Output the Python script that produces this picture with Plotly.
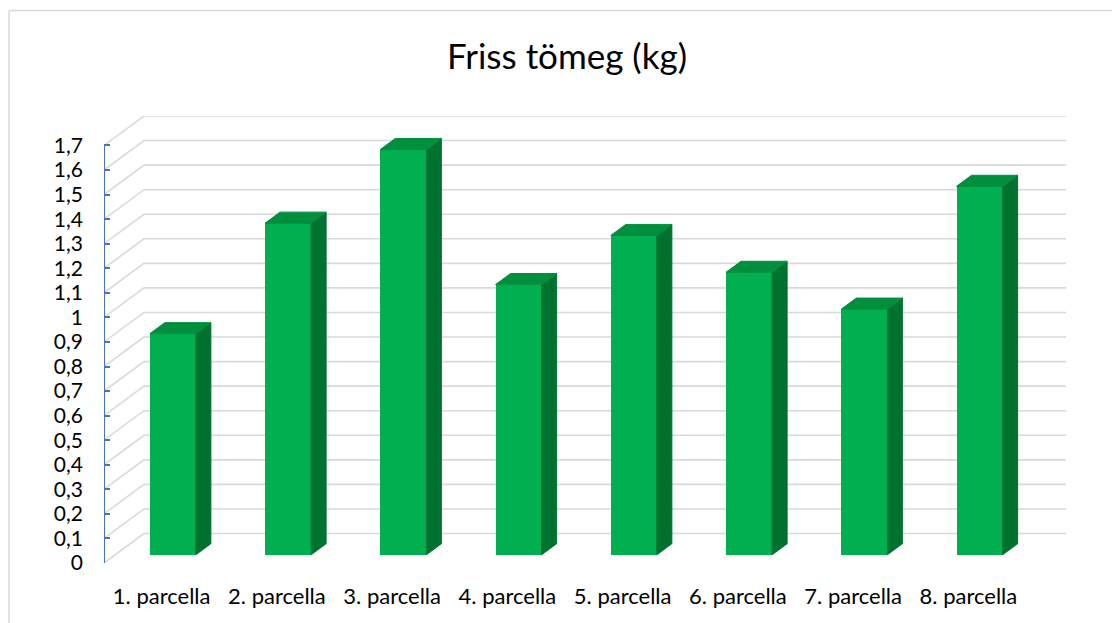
import plotly.graph_objects as go

categories = ["1. parcella", "2. parcella", "3. parcella", "4. parcella",
              "5. parcella", "6. parcella", "7. parcella", "8. parcella"]
values = [0.90, 1.35, 1.65, 1.10, 1.30, 1.15, 1.00, 1.50]
tick_vals = [round(i * 0.1, 1) for i in range(18)]
tick_text = ["0", "0,1", "0,2", "0,3", "0,4", "0,5", "0,6", "0,7", "0,8", "0,9",
             "1", "1,1", "1,2", "1,3", "1,4", "1,5", "1,6", "1,7"]

W, H = 1112, 623
L, R, T, B = 104, 46, 116, 60
XMIN, XMAX = -0.5, 7.847
YMIN, YMAX = 0.0, 1.82

# 3D depth of the floor / walls in data units
DX, DY = 0.347, 0.12
# bar placement inside the depth
F0, F1 = 0.28, 0.655
BW = 0.40

FRONT = "#00B050"
SIDE = "#00722F"
TOP = "#008F3D"
GRID = "#D9D9D9"
AXIS = "#4472C4"
FONT = "Lato, Calibri, sans-serif"

fig = go.Figure()

# walls: gridlines on side wall + back wall
for v in tick_vals:
    fig.add_trace(go.Scatter(
        x=[XMIN, XMIN + DX, XMAX], y=[v, v + DY, v + DY],
        mode="lines", line=dict(color=GRID, width=1.6),
        hoverinfo="skip", showlegend=False))

# bars (overlay axes so they sit above the gridlines)
for i, (c, v) in enumerate(zip(categories, values)):
    xl = i + F0 * DX - BW / 2
    xr = xl + BW
    b = F0 * DY
    ddx = (F1 - F0) * DX
    ddy = (F1 - F0) * DY
    t = b + v
    # side
    fig.add_trace(go.Scatter(
        x=[xr, xr + ddx, xr + ddx, xr, xr], y=[b, b + ddy, t + ddy, t, b],
        fill="toself", fillcolor=SIDE, mode="lines", line=dict(width=1, color=SIDE),
        hoverinfo="skip", showlegend=False, xaxis="x2", yaxis="y2"))
    # top
    fig.add_trace(go.Scatter(
        x=[xl, xl + ddx, xr + ddx, xr, xl], y=[t, t + ddy, t + ddy, t, t],
        fill="toself", fillcolor=TOP, mode="lines", line=dict(width=1, color=TOP),
        hoverinfo="skip", showlegend=False, xaxis="x2", yaxis="y2"))

fig.add_trace(go.Bar(
    x=[i + F0 * DX for i in range(len(values))], y=values, base=F0 * DY,
    width=BW, marker=dict(color=FRONT, line=dict(width=0)),
    showlegend=False, name="Friss tömeg (kg)", xaxis="x2", yaxis="y2"))

# vertical axis line (0 .. 1.7)
fig.add_trace(go.Scatter(
    x=[XMIN, XMIN], y=[0, tick_vals[-1]], mode="lines",
    line=dict(color=AXIS, width=2), hoverinfo="skip", showlegend=False))

# chart border (top and left)
px = lambda p: (p - L) / (W - L - R)
py = lambda p: (H - B - p) / (H - T - B)
fig.add_shape(type="line", xref="paper", yref="paper",
              x0=px(9), x1=px(W + 5), y0=py(10.5), y1=py(10.5),
              line=dict(color="#D9D9D9", width=1.5))
fig.add_shape(type="line", xref="paper", yref="paper",
              x0=px(9), x1=px(9), y0=py(10.5), y1=py(H + 5),
              line=dict(color="#D9D9D9", width=1.5))

fig.update_layout(
    width=W, height=H,
    margin=dict(l=L, r=R, t=T, b=B),
    paper_bgcolor="white", plot_bgcolor="white",
    font=dict(family=FONT, color="#000000"),
    title=dict(text="Friss tömeg (kg)", x=567 / W, xanchor="center",
               y=1 - 57 / H, yanchor="middle", yref="container",
               font=dict(size=35, color="#000000", family=FONT)),
    xaxis=dict(range=[XMIN, XMAX], tickvals=list(range(len(categories))),
               ticktext=categories, showgrid=False, zeroline=False,
               showline=False, ticks="outside", ticklen=14, tickcolor="rgba(0,0,0,0)",
               tickfont=dict(size=22, family=FONT)),
    yaxis=dict(range=[YMIN, YMAX], tickvals=tick_vals, ticktext=tick_text,
               showgrid=False, zeroline=False, showline=False,
               ticks="inside", ticklen=6, tickwidth=2, tickcolor=AXIS,
               ticklabelstandoff=20, automargin=False,
               tickfont=dict(size=21, family=FONT)),
    xaxis2=dict(range=[XMIN, XMAX], overlaying="x", visible=False),
    yaxis2=dict(range=[YMIN, YMAX], overlaying="y", visible=False),
    bargap=0,
)

fig.write_html("out.html", config={"displayModeBar": False},
               post_script="document.body.style.margin='0';")
